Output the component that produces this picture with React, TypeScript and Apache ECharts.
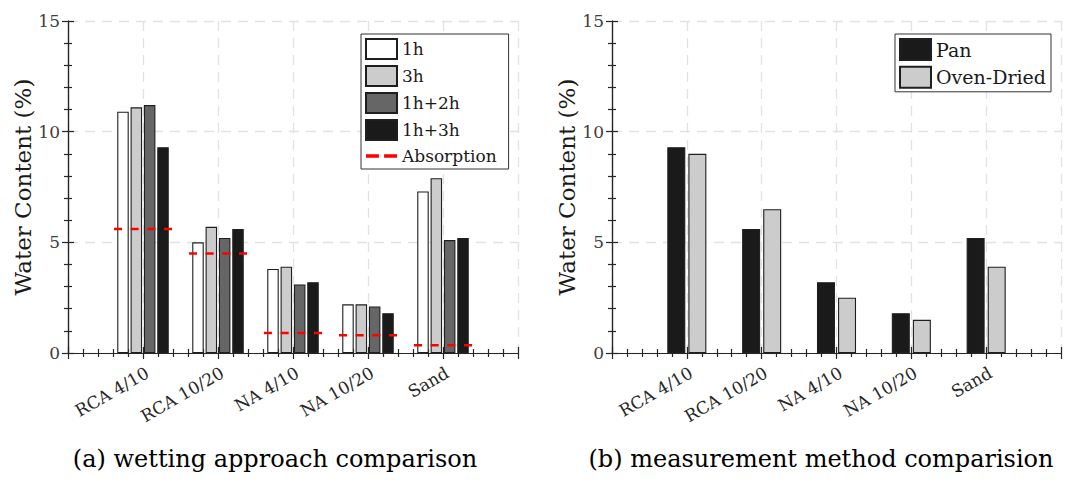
import React, { useEffect, useRef } from "react";
import * as echarts from "echarts";

const categories = ["RCA 4/10", "RCA 10/20", "NA 4/10", "NA 10/20", "Sand"];
const wet1h = [10.9, 5.0, 3.8, 2.2, 7.3];
const wet3h = [11.1, 5.7, 3.9, 2.2, 7.9];
const wet1h2h = [11.2, 5.2, 3.1, 2.1, 5.1];
const wet1h3h = [9.3, 5.6, 3.2, 1.8, 5.2];
const absorption = [5.6, 4.5, 0.9, 0.8, 0.35];
const pan = [9.3, 5.6, 3.2, 1.8, 5.2];
const ovenDried = [9.0, 6.5, 2.5, 1.5, 3.9];
const yMin = 0;
const yMax = 15;
const yStep = 5;
const captions = ["(a) wetting approach comparison", "(b) measurement method comparision"];
const yName = "Water Content (%)";

const FONT = "DejaVu Serif";
const AX = "#262626";

const toPairs = (vals: number[]) => vals.map((v, i) => [i + 1, v]);

function axesFor(g: number) {
  const lineStyle = { color: AX, width: 1.2 };
  const split = { show: true, lineStyle: { type: [10, 7], color: "#e2e2e2", width: 1.3 } };
  const xBase = {
    type: "value",
    gridIndex: g,
    min: 0,
    max: categories.length + 1,
    interval: 1,
    axisLine: { show: true, lineStyle },
    axisTick: { show: true, inside: true, length: 6, lineStyle },
    minorTick: { show: true, splitNumber: 5, length: 4, lineStyle },
  };
  const yBase = {
    type: "value",
    gridIndex: g,
    min: yMin,
    max: yMax,
    interval: yStep,
    axisLine: { show: true, lineStyle },
    axisTick: { show: true, inside: true, length: 6, lineStyle },
    minorTick: { show: true, splitNumber: 5, length: 4, lineStyle },
  };
  const xAxes = [
    {
      ...xBase,
      position: "bottom",
      splitLine: split,
      axisLabel: {
        show: true,
        rotate: 30,
        align: "right",
        verticalAlign: "top",
        margin: 11,
        fontFamily: FONT,
        fontSize: 17,
        color: AX,
        formatter: (v: number) => categories[v - 1] ?? "",
      },
    },
    { ...xBase, position: "top", splitLine: { show: false }, axisLabel: { show: false } },
  ];
  const yAxes = [
    {
      ...yBase,
      position: "left",
      splitLine: split,
      name: yName,
      nameLocation: "middle",
      nameGap: 33,
      nameTextStyle: { fontFamily: FONT, fontSize: 23, color: "#1a1a1a" },
      axisLabel: { show: true, margin: 8, fontFamily: FONT, fontSize: 17, color: "#404040" },
    },
    { ...yBase, position: "right", splitLine: { show: false }, axisLabel: { show: false } },
  ];
  return { xAxes, yAxes };
}

export default function App() {
  const ref = useRef<HTMLDivElement>(null);
  useEffect(() => {
    document.body.style.margin = "0";
    if (!ref.current) return;
    const chart = echarts.init(ref.current, null, { renderer: "svg" });
    const a0 = axesFor(0);
    const a1 = axesFor(1);
    const border = { borderColor: "#1f1f1f", borderWidth: 1.1 };
    const barCommon = { type: "bar", barWidth: 11.5, barGap: "16%", xAxisIndex: 0, yAxisIndex: 0 };
    const barCommon2 = { type: "bar", barWidth: 18, barGap: "17%", xAxisIndex: 2, yAxisIndex: 2 };
    const option: any = {
      animation: false,
      backgroundColor: "#ffffff",
      grid: [
        { left: 68, top: 21, width: 450, height: 332 },
        { left: 612, top: 21, width: 449, height: 332 },
      ],
      xAxis: [...a0.xAxes, ...a1.xAxes],
      yAxis: [...a0.yAxes, ...a1.yAxes],
      legend: [
        {
          data: [
            { name: "1h", icon: "rect" },
            { name: "3h", icon: "rect" },
            { name: "1h+2h", icon: "rect" },
            { name: "1h+3h", icon: "rect" },
            { name: "Absorption", icon: "path://M0,0H10V2.6H0ZM14,0H24V2.6H14Z" },
          ],
          orient: "vertical",
          left: 361,
          top: 34,
          itemWidth: 31,
          itemHeight: 20,
          itemGap: 5,
          padding: [4, 12, 3, 4],
          borderColor: "#333",
          borderWidth: 1,
          backgroundColor: "#fff",
          textStyle: { fontFamily: FONT, fontSize: 17, lineHeight: 20, color: "#1a1a1a" },
        },
        {
          data: [
            { name: "Pan", icon: "rect" },
            { name: "Oven-Dried", icon: "rect" },
          ],
          orient: "vertical",
          left: 895,
          top: 34,
          itemWidth: 31,
          itemHeight: 21,
          itemGap: 4.8,
          padding: [4, 5, 3, 4],
          borderColor: "#333",
          borderWidth: 1,
          backgroundColor: "#fff",
          textStyle: { fontFamily: FONT, fontSize: 19, lineHeight: 21, color: "#1a1a1a" },
        },
      ],
      series: [
        { ...barCommon, name: "1h", data: toPairs(wet1h), itemStyle: { color: "#ffffff", ...border } },
        { ...barCommon, name: "3h", data: toPairs(wet3h), itemStyle: { color: "#cccccc", ...border } },
        { ...barCommon, name: "1h+2h", data: toPairs(wet1h2h), itemStyle: { color: "#666666", ...border } },
        { ...barCommon, name: "1h+3h", data: toPairs(wet1h3h), itemStyle: { color: "#1a1a1a", ...border } },
        {
          type: "custom",
          name: "Absorption",
          xAxisIndex: 0,
          yAxisIndex: 0,
          z: 5,
          itemStyle: { color: "#ff0000" },
          encode: { x: 0, y: 1 },
          data: toPairs(absorption),
          renderItem: (params: any, api: any) => {
            const p = api.coord([api.value(0), api.value(1)]);
            return {
              type: "line",
              shape: { x1: p[0] - 29, y1: p[1], x2: p[0] + 29, y2: p[1] },
              style: { stroke: "#ff0000", lineWidth: 2.5, lineDash: [8, 8.67] },
            };
          },
        },
        { ...barCommon2, name: "Pan", data: toPairs(pan), itemStyle: { color: "#1a1a1a", ...border } },
        { ...barCommon2, name: "Oven-Dried", data: toPairs(ovenDried), itemStyle: { color: "#cccccc", ...border } },
      ],
      graphic: [
        {
          type: "text",
          x: 275,
          y: 459,
          style: { text: captions[0], font: `24px '${FONT}'`, fill: "#000", align: "center", verticalAlign: "middle" },
        },
        {
          type: "text",
          x: 821,
          y: 459,
          style: { text: captions[1], font: `24px '${FONT}'`, fill: "#000", align: "center", verticalAlign: "middle" },
        },
      ],
    };
    chart.setOption(option);
    return () => chart.dispose();
  }, []);
  return <div ref={ref} style={{ width: 1079, height: 483 }} />;
}
